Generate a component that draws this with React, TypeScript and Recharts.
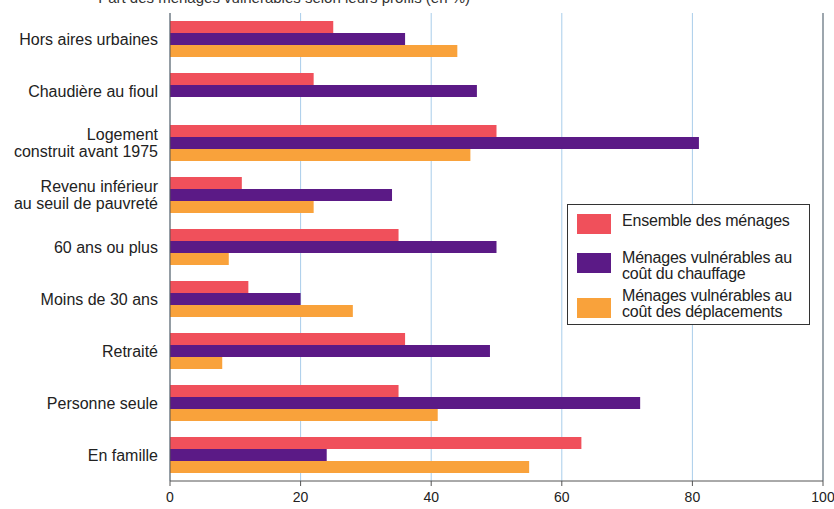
import React from 'react';
import { BarChart, Bar, XAxis, YAxis, CartesianGrid, ReferenceLine } from 'recharts';

const categories = [
  'Hors aires urbaines',
  'Chaudière au fioul',
  'Logement\nconstruit avant 1975',
  'Revenu inférieur\nau seuil de pauvreté',
  '60 ans ou plus',
  'Moins de 30 ans',
  'Retraité',
  'Personne seule',
  'En famille',
];

const ensemble = [25, 22, 50, 11, 35, 12, 36, 35, 63];
const chauffage = [36, 47, 81, 34, 50, 20, 49, 72, 24];
const deplacements = [44, 0, 46, 22, 9, 28, 8, 41, 55];

const xTicks = [0, 20, 40, 60, 80, 100];

const series = [
  { key: 'ensemble', label: 'Ensemble des ménages', color: '#f0505b' },
  { key: 'chauffage', label: 'Ménages vulnérables au\ncoût du chauffage', color: '#5b1a86' },
  { key: 'deplacements', label: 'Ménages vulnérables au\ncoût des déplacements', color: '#f9a23b' },
];

const data = categories.map((name, i) => ({
  name,
  ensemble: ensemble[i],
  chauffage: chauffage[i],
  deplacements: deplacements[i],
}));

const FONT = '"Liberation Sans", Arial, sans-serif';

const CategoryTick = (props: any) => {
  const { x, y, payload } = props;
  const lines: string[] = String(payload.value).split('\n');
  const lh = 17;
  const start = -((lines.length - 1) * lh) / 2;
  return (
    <text x={x} y={y} textAnchor="end" fill="#222" fontSize={16} fontFamily={FONT}>
      {lines.map((l, i) => (
        <tspan key={i} x={x} dy={i === 0 ? start + 5.5 : lh}>
          {l}
        </tspan>
      ))}
    </text>
  );
};

const ValueTick = (props: any) => {
  const { x, y, payload } = props;
  return (
    <text x={x} y={y + 14} textAnchor="middle" fill="#222" fontSize={14} fontFamily={FONT}>
      {payload.value}
    </text>
  );
};

const legendRows = [
  { swatchTop: 9, textTop: 8 },
  { swatchTop: 48, textTop: 45 },
  { swatchTop: 93, textTop: 83 },
];

const LegendBox = () => (
  <div
    style={{
      position: 'absolute',
      left: 567,
      top: 204,
      width: 243,
      height: 121,
      border: '1px solid #333',
      background: '#fff',
      boxSizing: 'border-box',
      fontFamily: FONT,
      fontSize: 16,
      color: '#222',
    }}
  >
    {series.map((s, i) => (
      <React.Fragment key={s.key}>
        <div
          style={{
            position: 'absolute',
            left: 9,
            top: legendRows[i].swatchTop,
            width: 34,
            height: 20,
            background: s.color,
          }}
        />
        <div
          style={{
            position: 'absolute',
            left: 54,
            top: legendRows[i].textTop,
            lineHeight: '15.5px',
            whiteSpace: 'pre',
            letterSpacing: '-0.2px',
          }}
        >
          {s.label}
        </div>
      </React.Fragment>
    ))}
  </div>
);

export default function App() {
  return (
    <div
      style={{
        position: 'absolute',
        left: 0,
        top: 0,
        width: 834,
        height: 509,
        overflow: 'hidden',
        background: '#fff',
        fontFamily: FONT,
      }}
    >
      <div
        style={{
          position: 'absolute',
          top: -11,
          right: 364,
          fontSize: 15,
          color: '#333',
          whiteSpace: 'nowrap',
        }}
      >
        Part des ménages vulnérables selon leurs profils (en %)
      </div>
      <BarChart
        width={834}
        height={509}
        data={data}
        layout="vertical"
        margin={{ top: 13, right: 11, bottom: 0, left: 0 }}
        barGap={0}
        barCategoryGap={8}
        style={{ position: 'absolute', left: 0, top: 0, overflow: 'visible' }}
      >
        <CartesianGrid horizontal={false} stroke="#a9cdea" />
        <XAxis
          type="number"
          domain={[0, 100]}
          ticks={xTicks}
          height={28}
          axisLine={{ stroke: '#555' }}
          tickLine={{ stroke: '#555' }}
          tickSize={5}
          interval={0}
          tick={<ValueTick />}
        />
        <XAxis
          xAxisId="top"
          orientation="top"
          type="number"
          domain={[0, 100]}
          height={0}
          tick={false}
          tickLine={false}
          axisLine={{ stroke: '#666' }}
        />
        <YAxis
          type="category"
          dataKey="name"
          width={170}
          axisLine={{ stroke: '#555' }}
          tickLine={false}
          tickSize={0}
          tickMargin={12}
          interval={0}
          tick={<CategoryTick />}
        />
        <ReferenceLine x={100} stroke="#666" />
        {series.map((s) => (
          <Bar key={s.key} dataKey={s.key} name={s.label} fill={s.color} isAnimationActive={false} />
        ))}
      </BarChart>
      <LegendBox />
    </div>
  );
}
